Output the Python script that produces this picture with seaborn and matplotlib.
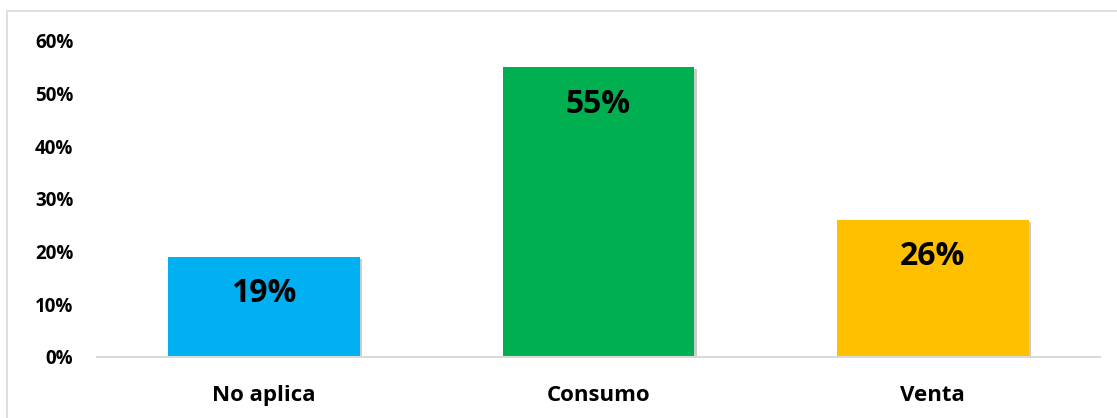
import matplotlib
matplotlib.use("Agg")
import matplotlib.pyplot as plt
import matplotlib.patches as mpatches
import matplotlib.patheffects as pe
import seaborn as sns
import pandas as pd

categories = ["No aplica", "Consumo", "Venta"]
values = [19, 55, 26]
colors = ["#00B0F0", "#00B050", "#FFC000"]
yticks = [0, 10, 20, 30, 40, 50, 60]

sns.set_theme(style="white")
plt.rcParams['font.family'] = ['Open Sans', 'DejaVu Sans']

fig = plt.figure(figsize=(11.17, 4.18), dpi=100)
ax = fig.add_axes([97/1117, 61/418, (1100-97)/1117, (357-41)/418])

df = pd.DataFrame({"cat": categories, "val": values})
sns.barplot(data=df, x="cat", y="val", hue="cat", palette=colors, ax=ax,
            width=0.574, legend=False, saturation=1)

for p in ax.patches:
    p.set_path_effects([pe.SimplePatchShadow(offset=(1.5, -1.5), alpha=0.3, shadow_rgbFace="#555555"), pe.Normal()])
    p.set_edgecolor("none")

ax.set_ylim(0, 60)
ax.set_yticks(yticks)
ax.set_yticklabels([f"{t}%" for t in yticks], fontsize=13.5, fontweight="bold", color="#000000")
ax.tick_params(axis="y", length=0, pad=17)
ax.tick_params(axis="x", length=0, pad=20)
for lab in ax.get_xticklabels():
    lab.set_fontsize(16)
    lab.set_fontweight("bold")
    lab.set_color("#000000")
ax.set_xlabel("")
ax.set_ylabel("")
for s in ["top", "right", "left"]:
    ax.spines[s].set_visible(False)
ax.spines["bottom"].set_color("#D9D9D9")
ax.spines["bottom"].set_linewidth(1.5)
ax.grid(False)

for i, v in enumerate(values):
    ax.text(i, v - 7, f"{v}%", ha="center", va="center", fontsize=23,
            fontweight="bold", color="#000000")

# chart border (partially cropped)
fig.add_artist(mpatches.Rectangle((7/1117, -0.05), 1.2, 1 - 11/418 + 0.05,
                                  transform=fig.transFigure, fill=False,
                                  edgecolor="#D9D9D9", linewidth=1.2))

fig.savefig("out.png", dpi=100, facecolor="white")
